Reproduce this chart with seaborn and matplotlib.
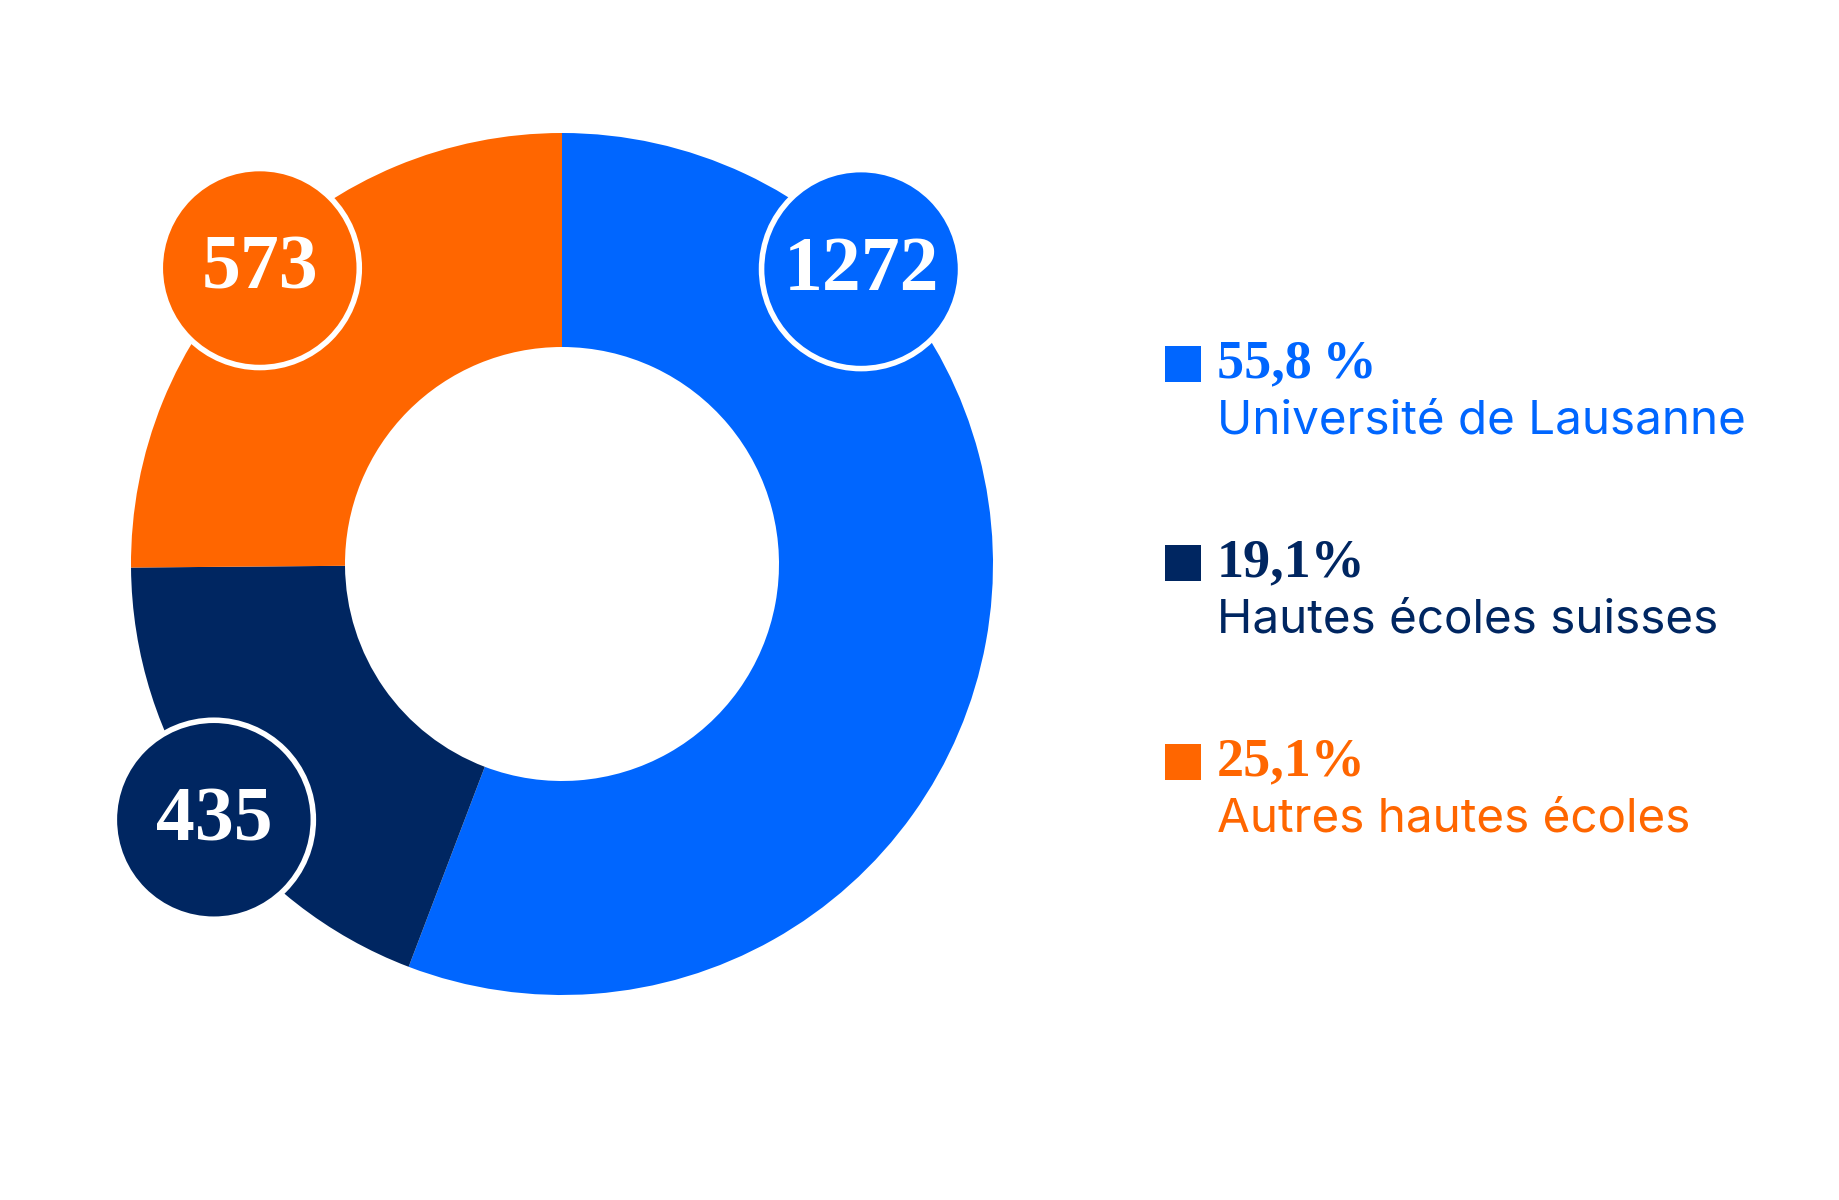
import matplotlib
matplotlib.use("Agg")
import matplotlib.pyplot as plt
from matplotlib.patches import Circle, Rectangle
import numpy as np
import seaborn as sns

# ---- data ----
categories = ["Université de Lausanne", "Hautes écoles suisses", "Autres hautes écoles"]
values = [1272, 435, 573]
value_labels = ["1272", "435", "573"]
percent_labels = ["55,8\u2009%", "19,1%", "25,1%"]
colors = ["#0066FF", "#002661", "#FF6600"]

sns.set_theme(style="white")
palette = sns.color_palette(colors)

W, H = 1840, 1200
fig = plt.figure(figsize=(W / 100, H / 100), dpi=100)
ax = fig.add_axes([0, 0, 1, 1])

cx, cy = 562, H - 564
R_out, R_in = 431, 217

ax.pie(values, colors=palette, startangle=90, counterclock=False,
       center=(cx, cy), radius=R_out, frame=True,
       wedgeprops=dict(width=R_out - R_in, edgecolor="none", linewidth=0))
ax.set_xlim(0, W)
ax.set_ylim(0, H)
ax.set_aspect("equal")
ax.axis("off")

# value bubbles (angle in degrees, distance from centre)
bubble_ang = [44.6, 216.3, 135.6]
bubble_dist = [420, 432, 423]
for v, lab, col, a, d in zip(values, value_labels, palette, bubble_ang, bubble_dist):
    bx = cx + d * np.cos(np.radians(a))
    by = cy + d * np.sin(np.radians(a))
    ax.add_patch(Circle((bx, by), 99.5, facecolor=col, edgecolor="white",
                        linewidth=4.0, zorder=5))
    ax.text(bx, by - 2, lab, ha="center", va="center", color="white",
            fontsize=56, fontweight="bold", family=["Liberation Serif", "DejaVu Serif"],
            zorder=6)

# legend
leg_x = 1165
leg_y0 = H - 364
step = 199
for i, (cat, pct, col) in enumerate(zip(categories, percent_labels, palette)):
    y = leg_y0 - i * step
    ax.add_patch(Rectangle((leg_x, y - 18), 36, 36, facecolor=col, edgecolor="none"))
    ax.text(leg_x + 52, y, pct, ha="left", va="center", color=col,
            fontsize=39, fontweight="bold", family=["Liberation Serif", "DejaVu Serif"])
    ax.text(leg_x + 52, y - 57, cat, ha="left", va="center", color=col,
            fontsize=34.3, family=["Inter", "DejaVu Sans"])

fig.savefig("out.png", dpi=100, facecolor="white")
